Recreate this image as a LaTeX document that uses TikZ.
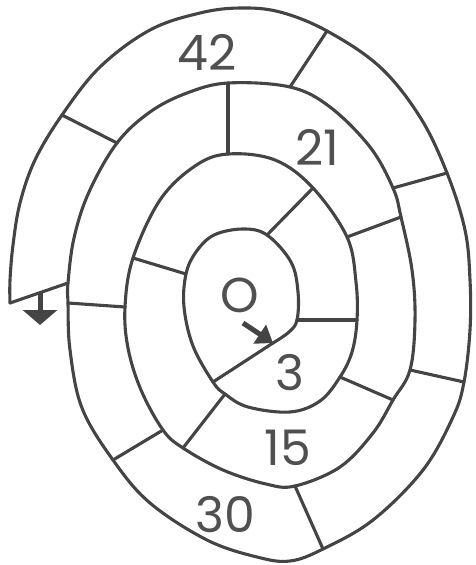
\documentclass[tikz,border=0pt]{standalone}
\usepackage{fontspec}
\setmainfont{Poppins}
\usetikzlibrary{arrows.meta}
\definecolor{ink}{RGB}{68,68,68}
\definecolor{txt}{RGB}{80,80,80}
\begin{document}
\begin{tikzpicture}[x=1pt,y=-1pt,line join=round,line cap=round,
  spiralline/.style={draw=ink,line width=3.1pt},
  divider/.style={draw=ink,line width=3.1pt},
  lbl/.style={text=txt,font=\fontsize{49}{49}\selectfont,inner sep=0pt},
  pointer/.style={draw=ink,line width=5pt,line cap=butt}]
\useasboundingbox (0,0) rectangle (475,565);
\fill[white] (0,0) rectangle (475,565);
% spiral points (image coordinates, y downwards)
\coordinate (p1) at (273,343);
\coordinate (p2) at (289,332);
\coordinate (p3) at (297,320);
\coordinate (p4) at (298,292);
\coordinate (p5) at (291,262);
\coordinate (p6) at (267,235);
\coordinate (p7) at (243,229);
\coordinate (p8) at (214,235);
\coordinate (p9) at (196,252);
\coordinate (p10) at (186,274);
\coordinate (p11) at (184,307);
\coordinate (p12) at (193,346);
\coordinate (p13) at (213,382);
\coordinate (p14) at (225,394);
\coordinate (p15) at (248,407);
\coordinate (p16) at (290,412);
\coordinate (p17) at (320,401);
\coordinate (p18) at (340,377);
\coordinate (p19) at (352,352);
\coordinate (p20) at (357,320);
\coordinate (p21) at (356,282);
\coordinate (p22) at (347,237);
\coordinate (p23) at (313,188);
\coordinate (p24) at (275,160);
\coordinate (p25) at (228,154);
\coordinate (p26) at (195,166);
\coordinate (p27) at (160,200);
\coordinate (p28) at (133,258);
\coordinate (p29) at (125,307);
\coordinate (p30) at (128,348);
\coordinate (p31) at (141,390);
\coordinate (p32) at (163,430);
\coordinate (p33) at (183,448);
\coordinate (p34) at (223,470);
\coordinate (p35) at (266,484);
\coordinate (p36) at (295,486);
\coordinate (p37) at (340,467);
\coordinate (p38) at (373,433);
\coordinate (p39) at (393,400);
\coordinate (p40) at (410,370);
\coordinate (p41) at (415,320);
\coordinate (p42) at (412,270);
\coordinate (p43) at (401,217);
\coordinate (p44) at (393,188);
\coordinate (p45) at (370,147);
\coordinate (p46) at (330,107);
\coordinate (p47) at (290,87);
\coordinate (p48) at (228,83);
\coordinate (p49) at (187,93);
\coordinate (p50) at (150,112);
\coordinate (p51) at (117,143);
\coordinate (p52) at (89,192);
\coordinate (p53) at (74,238);
\coordinate (p54) at (68,283);
\coordinate (p55) at (68,303);
\coordinate (p56) at (70,350);
\coordinate (p57) at (82,408);
\coordinate (p58) at (113,460);
\coordinate (p59) at (150,503);
\coordinate (p60) at (207,540);
\coordinate (p61) at (257,557);
\coordinate (p62) at (290,561);
\coordinate (p63) at (323,549);
\coordinate (p64) at (373,520);
\coordinate (p65) at (423,470);
\coordinate (p66) at (453,417);
\coordinate (p67) at (464,382);
\coordinate (p68) at (470,330);
\coordinate (p69) at (470,280);
\coordinate (p70) at (465,230);
\coordinate (p71) at (447,173);
\coordinate (p72) at (420,117);
\coordinate (p73) at (380,67);
\coordinate (p74) at (327,31);
\coordinate (p75) at (280,12);
\coordinate (p76) at (240,8);
\coordinate (p77) at (200,13);
\coordinate (p78) at (150,30);
\coordinate (p79) at (100,67);
\coordinate (p80) at (62,115);
\coordinate (p81) at (35,160);
\coordinate (p82) at (20,203);
\coordinate (p83) at (13,245);
\coordinate (p84) at (10,280);
\coordinate (p85) at (10,303);
% the spiral
\draw[spiralline] plot[smooth,tension=0.6] coordinates {(p1) (p2) (p3) (p4) (p5) (p6) (p7) (p8) (p9) (p10)
 (p11) (p12) (p13) (p14) (p15) (p16) (p17) (p18) (p19) (p20)
 (p21) (p22) (p23) (p24) (p25) (p26) (p27) (p28) (p29) (p30)
 (p31) (p32) (p33) (p34) (p35) (p36) (p37) (p38) (p39) (p40)
 (p41) (p42) (p43) (p44) (p45) (p46) (p47) (p48) (p49) (p50)
 (p51) (p52) (p53) (p54) (p55) (p56) (p57) (p58) (p59) (p60)
 (p61) (p62) (p63) (p64) (p65) (p66) (p67) (p68) (p69) (p70)
 (p71) (p72) (p73) (p74) (p75) (p76) (p77) (p78) (p79) (p80)
 (p81) (p82) (p83) (p84) (p85)};
% cell dividers
\draw[divider] (p1) -- (p13);
\draw[divider] (p3) -- (p20);
\draw[divider] (p6) -- (p23);
\draw[divider] (p10) -- (p28);
\draw[divider] (p14) -- (p33);
\draw[divider] (p18) -- (p39);
\draw[divider] (p22) -- (p43);
\draw[divider] (p44) -- (p71);
\draw[divider] (p47) -- (p74);
\draw[divider] (p25) -- (p48);
\draw[divider] (p51) -- (p80);
\draw[divider] (p29) -- (p55);
\draw[divider] (p54) -- (p85);
\draw[divider] (p32) -- (p58);
\draw[divider] (p36) -- (p63);
\draw[divider] (p40) -- (p67);
% arrows
\coordinate (c0) at (243,323);
\draw[pointer,-{Triangle[width=22pt,length=16pt]}] (c0) -- (p1);
\coordinate (s0) at (40,292);
\coordinate (s1) at (40,325);
\draw[pointer,-{Triangle[width=34pt,length=15pt]}] (s0) -- (s1);
% labels
\node[lbl] (tO) at (240,295) {O};
\node[lbl] (t3) at (290,373) {3};
\node[lbl] (t15) at (288,448) {15};
\node[lbl] (t30) at (225,515) {30};
\node[lbl] (t21) at (317,147) {21};
\node[lbl] (t42) at (207,52) {42};
\end{tikzpicture}
\end{document}
